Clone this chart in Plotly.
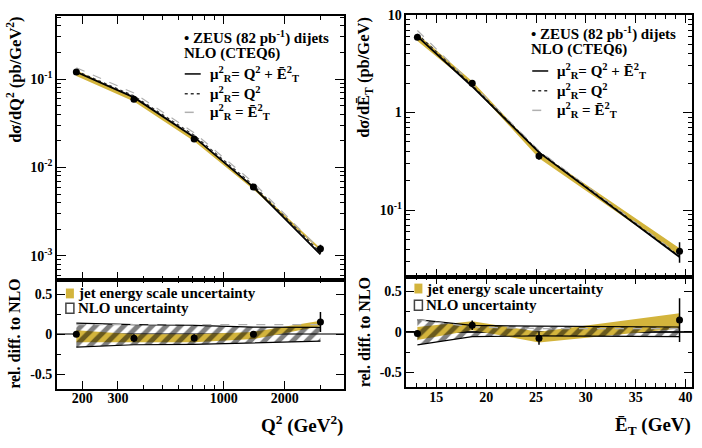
import plotly.graph_objects as go

# ---------------- data ----------------
# left: d sigma / d Q^2
q2_centres = [187, 360, 714, 1400, 3000]
q2_data = [0.120, 0.059, 0.021, 0.0060, 0.0012]
q2_stat = [0.004, 0.003, 0.001, 0.0002, 0.00013]
q2_nlo = [0.120, 0.062, 0.022, 0.0060, 0.00104]
q2_rel_muQ2 = [0.03, 0.04, 0.05, 0.05, 0.05]        # mu_R^2 = Q^2 relative to NLO
q2_rel_muET2 = [0.12, 0.12, 0.12, 0.12, 0.12]       # mu_R^2 = ET^2 relative to NLO
q2_nlo_unc_up = [0.14, 0.12, 0.11, 0.09, 0.085]
q2_nlo_unc_dn = [-0.16, -0.13, -0.125, -0.105, -0.085]
q2_jes_lo = [-0.10, -0.10, -0.10, -0.06, 0.10]
q2_jes_hi = [0.05, 0.00, 0.00, 0.03, 0.17]

# right: d sigma / d ET
et_centres = [13.1, 18.6, 25.3, 39.4]
et_data = [5.9, 2.0, 0.36, 0.038]
et_stat = [0.18, 0.11, 0.031, 0.009]
et_nlo = [6.02, 1.85, 0.391, 0.0332]
et_rel_muQ2 = [0.06, 0.03, 0.02, 0.02]
et_rel_muET2 = [0.15, 0.06, 0.04, 0.04]
et_nlo_unc_up = [0.15, 0.08, 0.07, 0.06]
et_nlo_unc_dn = [-0.16, -0.06, -0.05, -0.06]
et_jes_lo = [-0.10, 0.02, -0.13, 0.04]
et_jes_hi = [0.06, 0.13, 0.00, 0.23]

q2_tick_vals = [200, 300, 1000, 2000]
q2_tick_text = ["200", "300", "1000", "2000"]
q2_minor_vals = [400, 500, 600, 700, 800, 900, 3000]
et_tick_vals = [15, 20, 25, 30, 35, 40]
ratio_tick_vals = [-0.5, 0, 0.5]
ratio_tick_text = ["-0.5", "0", "0.5"]
ylog_left_vals = [0.001, 0.01, 0.1]
ylog_left_text = ["10<sup>-3</sup>", "10<sup>-2</sup>", "10<sup>-1</sup>"]
ylog_right_vals = [0.1, 1, 10]
ylog_right_text = ["10<sup>-1</sup>", "1", "10"]

# ---------------- styling ----------------
W, H = 702, 448
FONT = "Liberation Serif, Times New Roman, serif"
YELLOW = "#d3b43c"
GREY_DOT = "#333333"
GREY_DASH = "#b0b0b0"


def px_x(x):
    return x / W


def px_y(y):
    return 1 - y / H


def mk_minor_log(lo_exp, hi_exp):
    vals = []
    for e in range(lo_exp, hi_exp + 1):
        for m in range(2, 10):
            vals.append(m * 10 ** e)
    return vals


fig = go.Figure()


def add_panel(xc, data, stat, nlo, rel_q2, rel_et2, up, dn, jlo, jhi, xa_top, ya_top, xa_r, ya_r):
    n = len(xc)
    # --- top panel ---
    fig.add_trace(go.Scatter(x=xc, y=[nlo[i] * (1 + jlo[i]) for i in range(n)], mode="lines",
                             line=dict(width=0, color=YELLOW), xaxis=xa_top, yaxis=ya_top,
                             showlegend=False, hoverinfo="skip"))
    fig.add_trace(go.Scatter(x=xc, y=[nlo[i] * (1 + jhi[i]) for i in range(n)], mode="lines",
                             line=dict(width=0, color=YELLOW), fill="tonexty", fillcolor=YELLOW,
                             xaxis=xa_top, yaxis=ya_top, showlegend=False, hoverinfo="skip"))
    fig.add_trace(go.Scatter(x=xc, y=[nlo[i] * (1 + rel_et2[i]) for i in range(n)], mode="lines",
                             line=dict(color=GREY_DASH, width=1.2, dash="dash"),
                             xaxis=xa_top, yaxis=ya_top, showlegend=False))
    fig.add_trace(go.Scatter(x=xc, y=[nlo[i] * (1 + rel_q2[i]) for i in range(n)], mode="lines",
                             line=dict(color=GREY_DOT, width=1.2, dash="dot"),
                             xaxis=xa_top, yaxis=ya_top, showlegend=False))
    fig.add_trace(go.Scatter(x=xc, y=nlo, mode="lines", line=dict(color="black", width=1.8),
                             xaxis=xa_top, yaxis=ya_top, showlegend=False))
    fig.add_trace(go.Scatter(x=xc, y=data, mode="markers",
                             marker=dict(color="black", size=7),
                             error_y=dict(type="data", array=stat, color="black", thickness=1.5, width=0),
                             xaxis=xa_top, yaxis=ya_top, showlegend=False))
    # --- ratio panel ---
    ratio = [data[i] / nlo[i] - 1 for i in range(n)]
    rerr = [stat[i] / nlo[i] for i in range(n)]
    fig.add_trace(go.Scatter(x=xc, y=jlo, mode="lines", line=dict(width=0, color=YELLOW),
                             xaxis=xa_r, yaxis=ya_r, showlegend=False, hoverinfo="skip"))
    fig.add_trace(go.Scatter(x=xc, y=jhi, mode="lines", line=dict(width=0, color=YELLOW),
                             fill="tonexty", fillcolor=YELLOW,
                             xaxis=xa_r, yaxis=ya_r, showlegend=False, hoverinfo="skip"))
    fig.add_trace(go.Scatter(x=xc, y=dn, mode="lines", line=dict(width=1.2, color="black"),
                             xaxis=xa_r, yaxis=ya_r, showlegend=False, hoverinfo="skip"))
    fig.add_trace(go.Scatter(x=xc, y=up, mode="lines", line=dict(width=1.2, color="black"),
                             fill="tonexty", fillcolor="rgba(0,0,0,0)",
                             fillpattern=dict(shape="/", fgcolor="black", bgcolor="rgba(0,0,0,0)",
                                              size=10, solidity=0.5, fillmode="overlay"),
                             xaxis=xa_r, yaxis=ya_r, showlegend=False, hoverinfo="skip"))
    fig.add_trace(go.Scatter(x=xc, y=rel_et2, mode="lines",
                             line=dict(color=GREY_DASH, width=1.2, dash="dash"),
                             xaxis=xa_r, yaxis=ya_r, showlegend=False))
    fig.add_trace(go.Scatter(x=xc, y=ratio, mode="markers", marker=dict(color="black", size=7),
                             error_y=dict(type="data", array=rerr, color="black", thickness=1.5, width=0),
                             xaxis=xa_r, yaxis=ya_r, showlegend=False))


add_panel(q2_centres, q2_data, q2_stat, q2_nlo, q2_rel_muQ2, q2_rel_muET2, q2_nlo_unc_up,
          q2_nlo_unc_dn, q2_jes_lo, q2_jes_hi, "x", "y", "x2", "y2")
add_panel(et_centres, et_data, et_stat, et_nlo, et_rel_muQ2, et_rel_muET2, et_nlo_unc_up,
          et_nlo_unc_dn, et_jes_lo, et_jes_hi, "x3", "y3", "x4", "y4")

tickfont = dict(family=FONT, size=14, color="black", weight="bold")
common = dict(showline=True, linecolor="black", linewidth=1.5, mirror="allticks", ticks="inside",
              tickcolor="black", tickwidth=1, showgrid=False, zeroline=False, tickfont=tickfont,
              ticklabeloverflow="allow")
common_nz = {k: v for k, v in common.items() if k != "zeroline"}

LX = [px_x(57), px_x(344)]
RX = [px_x(407), px_x(693)]
q2_range = [2.176, 3.591]
et_range = [12.0, 40.65]

fig.update_layout(
    xaxis=dict(domain=LX, type="log", range=q2_range, anchor="y", tickmode="array",
               tickvals=q2_tick_vals, ticklen=8, showticklabels=False,
               minor=dict(tickmode="array", tickvals=q2_minor_vals, ticks="inside", ticklen=4,
                          tickcolor="black"), **common),
    yaxis=dict(domain=[px_y(277), px_y(9)], type="log", range=[-3.27, -0.285], anchor="x",
               tickmode="array", tickvals=ylog_left_vals, ticktext=ylog_left_text, ticklen=9,
               minor=dict(tickmode="array", tickvals=mk_minor_log(-4, -1), ticks="inside", ticklen=4,
                          tickcolor="black"), **common),
    xaxis2=dict(domain=LX, type="log", range=q2_range, anchor="y2", tickmode="array",
                tickvals=q2_tick_vals, ticktext=q2_tick_text, ticklen=8, ticklabelstandoff=-4,
                minor=dict(tickmode="array", tickvals=q2_minor_vals, ticks="inside", ticklen=4,
                           tickcolor="black"), **common),
    yaxis2=dict(domain=[px_y(388), px_y(277)], range=[-0.68, 0.68], anchor="x2", tickmode="array",
                tickvals=ratio_tick_vals, ticktext=ratio_tick_text, ticklen=8,
                minor=dict(tickmode="array", tickvals=[-0.25, 0.25], ticks="inside", ticklen=4,
                           tickcolor="black"), **common_nz,
                zeroline=True, zerolinecolor="#777777", zerolinewidth=1.5),
    xaxis3=dict(domain=RX, range=et_range, anchor="y3", tickmode="array", tickvals=et_tick_vals,
                ticklen=8, showticklabels=False,
                minor=dict(dtick=1, ticks="inside", ticklen=4, tickcolor="black"), **common),
    yaxis3=dict(domain=[px_y(274), px_y(8)], type="log", range=[-1.68, 1.0], anchor="x3",
                tickmode="array", tickvals=ylog_right_vals, ticktext=ylog_right_text, ticklen=9,
                minor=dict(tickmode="array", tickvals=mk_minor_log(-2, 0), ticks="inside", ticklen=4,
                           tickcolor="black"), **common),
    xaxis4=dict(domain=RX, range=et_range, anchor="y4", tickmode="array", tickvals=et_tick_vals,
                ticklen=8, ticklabelstandoff=-4,
                minor=dict(dtick=1, ticks="inside", ticklen=4, tickcolor="black"), **common),
    yaxis4=dict(domain=[px_y(386), px_y(274)], range=[-0.68, 0.68], anchor="x4", tickmode="array",
                tickvals=ratio_tick_vals, ticktext=ratio_tick_text, ticklen=8,
                minor=dict(tickmode="array", tickvals=[-0.25, 0.25], ticks="inside", ticklen=4,
                           tickcolor="black"), **common_nz,
                zeroline=True, zerolinecolor="#222222", zerolinewidth=1.5),
)

ann = []
shapes = []


def text(x, y, s, size=15, xanchor="left", yanchor="middle", angle=0, color="black"):
    ann.append(dict(x=px_x(x), y=px_y(y), xref="paper", yref="paper", text=s, showarrow=False,
                    xanchor=xanchor, yanchor=yanchor, textangle=angle,
                    font=dict(family=FONT, size=size, color=color, weight="bold")))


# axis titles
text(15, 8, "dσ/dQ<sup>2</sup> (pb/GeV<sup>2</sup>)", size=16.5, xanchor="center", yanchor="top", angle=-90)
text(15, 332, "rel. diff. to NLO", size=16, xanchor="center", yanchor="middle", angle=-90)
text(365, 8, "dσ/dĒ<sub>T</sub> (pb/GeV)", size=16.5, xanchor="center", yanchor="top", angle=-90)
text(365, 330, "rel. diff. to NLO", size=16, xanchor="center", yanchor="middle", angle=-90)
text(345, 424, "Q<sup>2</sup> (GeV<sup>2</sup>)", size=19, xanchor="right")
text(694, 426, "Ē<sub>T</sub> (GeV)", size=19, xanchor="right")

# top legends
mu1 = "μ<sup>2</sup><sub>R</sub>= Q<sup>2</sup> + Ē<sup>2</sup><sub>T</sub>"
mu2 = "μ<sup>2</sup><sub>R</sub>= Q<sup>2</sup>"
mu3 = "μ<sup>2</sup><sub>R</sub> = Ē<sup>2</sup><sub>T</sub>"
for (x0, ys) in [(185, [31, 47, 68, 88, 107]), (533, [27, 43, 65, 85, 105])]:
    text(x0 - 3, ys[0], "• ZEUS (82 pb<sup>-1</sup>) dijets", size=15)
    text(x0 - 3, ys[1], "NLO (CTEQ6)", size=15)
    text(x0 + 23, ys[2], mu1, size=15)
    text(x0 + 23, ys[3], mu2, size=15)
    text(x0 + 23, ys[4], mu3, size=15)
    for y, col, dash in [(ys[2], "black", "solid"), (ys[3], GREY_DOT, "dot"), (ys[4], GREY_DASH, "dash")]:
        shapes.append(dict(type="line", xref="paper", yref="paper", x0=px_x(x0), x1=px_x(x0 + 16),
                           y0=px_y(y), y1=px_y(y), line=dict(color=col, width=1.5, dash=dash)))

# ratio legends
for (bx, y1, y2) in [(66, 291, 306), (415, 286, 303)]:
    shapes.append(dict(type="rect", xref="paper", yref="paper", x0=px_x(bx), x1=px_x(bx + 8),
                       y0=px_y(y1 + 5), y1=px_y(y1 - 5), fillcolor=YELLOW, line=dict(width=0)))
    shapes.append(dict(type="rect", xref="paper", yref="paper", x0=px_x(bx), x1=px_x(bx + 8),
                       y0=px_y(y2 + 5), y1=px_y(y2 - 5), fillcolor="white",
                       line=dict(color="#444444", width=1.5)))
    text(bx + 10, y1, "jet energy scale uncertainty", size=15)
    text(bx + 10, y2, "NLO uncertainty", size=15)

fig.update_layout(annotations=ann, shapes=shapes, width=W, height=H, autosize=False,
                  margin=dict(l=0, r=0, t=0, b=0), paper_bgcolor="white", plot_bgcolor="white",
                  showlegend=False)

fig.write_html("out.html", config={"displayModeBar": False},
               post_script="document.body.style.margin='0px';")
